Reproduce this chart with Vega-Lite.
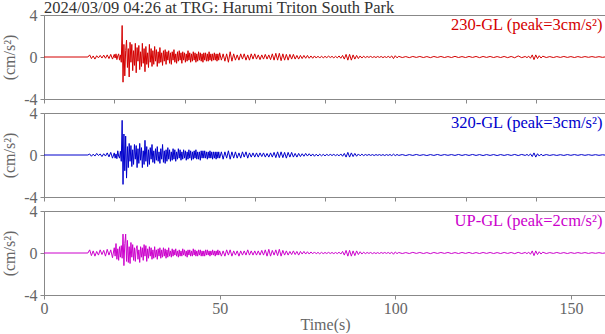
{
  "$schema": "https://vega.github.io/schema/vega-lite/v6.json",
  "background": "white",
  "padding": {"left": 1, "top": 0, "right": 0, "bottom": 0},
  "title": {"text": "2024/03/09 04:26 at TRG: Harumi Triton South Park", "anchor": "start", "frame": "group", "font": "Liberation Serif", "fontSize": 16.5, "fontWeight": "normal", "color": "#333333", "offset": -10},
  "config": {
    "font": "Liberation Serif",
    "view": {"stroke": "#888888", "strokeWidth": 1},
    "axis": {"domainColor": "#888888", "tickColor": "#888888", "labelColor": "#666666", "titleColor": "#666666", "labelFont": "Liberation Serif", "titleFont": "Liberation Serif", "labelFontSize": 16, "titleFontSize": 16, "titleFontWeight": "normal", "grid": false, "tickSize": 4, "labelPadding": 3, "titlePadding": 6, "labelOverlap": false, "labelFlush": false}
  },
  "spacing": 14,
  "bounds": "flush",
  "data": {"values": [
    {"t":0,"ew":0,"ns":0,"ud":0},
    {"t":12.5,"ew":0,"ns":0,"ud":0},
    {"t":13,"ew":0.2,"ns":0.1,"ud":0.3},
    {"t":13.5,"ew":-0.15,"ns":-0.12,"ud":-0.25},
    {"t":14,"ew":0.1,"ns":0.08,"ud":0.2},
    {"t":14.5,"ew":-0.2,"ns":-0.1,"ud":-0.3},
    {"t":15,"ew":0.12,"ns":0.15,"ud":0.15},
    {"t":15.5,"ew":-0.08,"ns":-0.05,"ud":-0.2},
    {"t":16,"ew":0.15,"ns":0.1,"ud":0.3},
    {"t":16.5,"ew":-0.1,"ns":-0.15,"ud":-0.15},
    {"t":17,"ew":0.18,"ns":0.12,"ud":0.25},
    {"t":17.5,"ew":-0.12,"ns":-0.1,"ud":-0.3},
    {"t":18,"ew":0.2,"ns":0.2,"ud":0.35},
    {"t":18.5,"ew":-0.15,"ns":-0.18,"ud":-0.2},
    {"t":19,"ew":0.25,"ns":0.25,"ud":0.3},
    {"t":19.5,"ew":-0.2,"ns":-0.3,"ud":-0.45},
    {"t":20,"ew":0.25,"ns":0.2,"ud":0.5},
    {"t":20.25,"ew":-0.1,"ns":-0.3,"ud":-0.3},
    {"t":20.5,"ew":0.3,"ns":0.1,"ud":0.9},
    {"t":20.75,"ew":-0.25,"ns":-0.35,"ud":-0.6},
    {"t":21,"ew":0.1,"ns":0.4,"ud":0.4},
    {"t":21.25,"ew":0.3,"ns":-0.1,"ud":-0.7},
    {"t":21.5,"ew":-0.3,"ns":-0.3,"ud":0.6},
    {"t":21.75,"ew":0.2,"ns":0.35,"ud":-0.4},
    {"t":22,"ew":-0.5,"ns":-0.6,"ud":0.7},
    {"t":22.25,"ew":3.0,"ns":3.3,"ud":-0.5},
    {"t":22.5,"ew":-2.4,"ns":-2.8,"ud":1.8},
    {"t":22.75,"ew":1.2,"ns":2.0,"ud":-1.2},
    {"t":23,"ew":-1.8,"ns":-1.5,"ud":0.9},
    {"t":23.25,"ew":0.6,"ns":1.8,"ud":1.8},
    {"t":23.5,"ew":1.6,"ns":-2.2,"ud":-0.8},
    {"t":23.75,"ew":-1.0,"ns":0.8,"ud":1.2},
    {"t":24,"ew":0.8,"ns":-1.2,"ud":-0.9},
    {"t":24.25,"ew":-1.9,"ns":1.1,"ud":0.6},
    {"t":24.5,"ew":1.4,"ns":-0.6,"ud":-1.0},
    {"t":24.75,"ew":-0.5,"ns":0.9,"ud":1.0},
    {"t":25,"ew":1.2,"ns":-1.1,"ud":-0.4},
    {"t":25.25,"ew":-1.3,"ns":0.5,"ud":0.8},
    {"t":25.5,"ew":0.6,"ns":-0.9,"ud":-0.7},
    {"t":25.75,"ew":-0.8,"ns":1.0,"ud":0.5},
    {"t":26,"ew":1.3,"ns":-0.4,"ud":-0.8},
    {"t":26.25,"ew":-1.5,"ns":0.9,"ud":0.4},
    {"t":26.5,"ew":0.9,"ns":-1.2,"ud":0.7},
    {"t":26.75,"ew":-0.4,"ns":0.6,"ud":-0.6},
    {"t":27,"ew":1.1,"ns":-0.8,"ud":0.3},
    {"t":27.25,"ew":-1.2,"ns":1.1,"ud":-0.9},
    {"t":27.5,"ew":0.5,"ns":-0.5,"ud":0.6},
    {"t":27.75,"ew":-0.9,"ns":0.7,"ud":-0.4},
    {"t":28,"ew":1.3,"ns":-1.2,"ud":0.5},
    {"t":28.25,"ew":-0.6,"ns":0.4,"ud":-0.7},
    {"t":28.5,"ew":0.8,"ns":-0.9,"ud":0.8},
    {"t":28.75,"ew":-1.4,"ns":1.4,"ud":-0.3},
    {"t":29,"ew":1.0,"ns":-0.6,"ud":0.7},
    {"t":29.25,"ew":-0.7,"ns":0.8,"ud":-0.8},
    {"t":29.5,"ew":0.4,"ns":-1.1,"ud":0.4},
    {"t":29.75,"ew":-1.0,"ns":0.5,"ud":-0.5},
    {"t":30,"ew":1.2,"ns":-0.9,"ud":0.6},
    {"t":30.25,"ew":-0.5,"ns":0.7,"ud":-0.3},
    {"t":30.5,"ew":0.8,"ns":-0.4,"ud":0.5},
    {"t":30.75,"ew":-0.9,"ns":1.0,"ud":-0.6},
    {"t":31,"ew":0.6,"ns":-0.7,"ud":0.3},
    {"t":31.25,"ew":-0.7,"ns":0.4,"ud":-0.5},
    {"t":31.5,"ew":1.0,"ns":-0.8,"ud":0.6},
    {"t":31.75,"ew":-0.4,"ns":0.6,"ud":-0.4},
    {"t":32,"ew":0.7,"ns":-0.5,"ud":0.3},
    {"t":32.25,"ew":-0.9,"ns":0.8,"ud":-0.6},
    {"t":32.5,"ew":0.5,"ns":-0.6,"ud":0.4},
    {"t":32.75,"ew":-0.6,"ns":0.3,"ud":-0.3},
    {"t":33,"ew":0.9,"ns":-0.8,"ud":0.5},
    {"t":33.25,"ew":-0.5,"ns":0.6,"ud":-0.5},
    {"t":33.5,"ew":0.4,"ns":-0.4,"ud":0.3},
    {"t":33.75,"ew":-0.8,"ns":1.0,"ud":-0.4},
    {"t":34,"ew":0.6,"ns":-0.7,"ud":0.5},
    {"t":34.25,"ew":-0.4,"ns":0.4,"ud":-0.3},
    {"t":34.5,"ew":0.7,"ns":-0.8,"ud":0.4},
    {"t":34.75,"ew":-0.7,"ns":0.5,"ud":-0.5},
    {"t":35,"ew":0.5,"ns":-0.6,"ud":0.3},
    {"t":35.25,"ew":-0.3,"ns":0.7,"ud":-0.4},
    {"t":35.5,"ew":0.6,"ns":-0.4,"ud":0.5},
    {"t":35.75,"ew":-0.6,"ns":0.5,"ud":-0.3},
    {"t":36,"ew":0.4,"ns":-0.6,"ud":0.2},
    {"t":36.25,"ew":-0.7,"ns":0.3,"ud":-0.4},
    {"t":36.5,"ew":0.5,"ns":-0.5,"ud":0.4},
    {"t":36.75,"ew":-0.3,"ns":0.6,"ud":-0.3},
    {"t":37,"ew":0.7,"ns":-0.4,"ud":0.3},
    {"t":37.25,"ew":-0.5,"ns":0.5,"ud":-0.2},
    {"t":37.5,"ew":0.3,"ns":-0.6,"ud":0.4},
    {"t":37.75,"ew":-0.6,"ns":0.3,"ud":-0.3},
    {"t":38,"ew":0.5,"ns":-0.4,"ud":0.2},
    {"t":38.25,"ew":-0.4,"ns":0.6,"ud":-0.4},
    {"t":38.5,"ew":0.6,"ns":-0.3,"ud":0.3},
    {"t":38.75,"ew":-0.3,"ns":0.5,"ud":-0.3},
    {"t":39,"ew":0.4,"ns":-0.5,"ud":0.2},
    {"t":39.25,"ew":-0.6,"ns":0.3,"ud":-0.3},
    {"t":39.5,"ew":0.5,"ns":-0.4,"ud":0.4},
    {"t":39.75,"ew":-0.3,"ns":0.5,"ud":-0.2},
    {"t":40,"ew":0.4,"ns":-0.3,"ud":0.3},
    {"t":40.25,"ew":-0.5,"ns":0.4,"ud":-0.3},
    {"t":40.5,"ew":0.3,"ns":-0.5,"ud":0.2},
    {"t":40.75,"ew":-0.4,"ns":0.3,"ud":-0.4},
    {"t":41,"ew":0.6,"ns":-0.4,"ud":0.3},
    {"t":41.25,"ew":-0.3,"ns":0.5,"ud":-0.2},
    {"t":41.5,"ew":0.4,"ns":-0.3,"ud":0.3},
    {"t":41.75,"ew":-0.5,"ns":0.4,"ud":-0.3},
    {"t":42,"ew":0.3,"ns":-0.5,"ud":0.2},
    {"t":42.25,"ew":-0.4,"ns":0.3,"ud":-0.3},
    {"t":42.5,"ew":0.5,"ns":-0.4,"ud":0.4},
    {"t":42.75,"ew":-0.3,"ns":0.4,"ud":-0.2},
    {"t":43,"ew":0.4,"ns":-0.3,"ud":0.3},
    {"t":43.25,"ew":-0.5,"ns":0.5,"ud":-0.3},
    {"t":43.5,"ew":0.3,"ns":-0.4,"ud":0.2},
    {"t":43.75,"ew":-0.4,"ns":0.3,"ud":-0.3},
    {"t":44,"ew":0.5,"ns":-0.4,"ud":0.3},
    {"t":44.25,"ew":-0.3,"ns":0.3,"ud":-0.2},
    {"t":44.5,"ew":0.4,"ns":-0.5,"ud":0.3},
    {"t":44.75,"ew":-0.4,"ns":0.4,"ud":-0.3},
    {"t":45,"ew":0.3,"ns":-0.3,"ud":0.2},
    {"t":45.25,"ew":-0.5,"ns":0.4,"ud":-0.3},
    {"t":45.5,"ew":0.4,"ns":-0.3,"ud":0.2},
    {"t":45.75,"ew":-0.3,"ns":0.4,"ud":-0.3},
    {"t":46,"ew":0.4,"ns":-0.3,"ud":0.3},
    {"t":46.25,"ew":-0.4,"ns":0.3,"ud":-0.2},
    {"t":46.5,"ew":0.3,"ns":-0.4,"ud":0.3},
    {"t":46.75,"ew":-0.4,"ns":0.3,"ud":-0.2},
    {"t":47,"ew":0.5,"ns":-0.3,"ud":0.2},
    {"t":47.25,"ew":-0.3,"ns":0.4,"ud":-0.3},
    {"t":47.5,"ew":0.3,"ns":-0.3,"ud":0.2},
    {"t":47.75,"ew":-0.4,"ns":0.3,"ud":-0.2},
    {"t":48,"ew":0.3,"ns":-0.4,"ud":0.3},
    {"t":48.25,"ew":-0.3,"ns":0.3,"ud":-0.2},
    {"t":48.5,"ew":0.4,"ns":-0.3,"ud":0.2},
    {"t":48.75,"ew":-0.3,"ns":0.3,"ud":-0.3},
    {"t":49,"ew":0.3,"ns":-0.4,"ud":0.2},
    {"t":49.25,"ew":-0.4,"ns":0.3,"ud":-0.2},
    {"t":49.5,"ew":0.3,"ns":-0.3,"ud":0.3},
    {"t":49.75,"ew":-0.3,"ns":0.3,"ud":-0.2},
    {"t":50,"ew":0.4,"ns":-0.3,"ud":0.2},
    {"t":50.5,"ew":-0.3,"ns":0.3,"ud":-0.3},
    {"t":51,"ew":0.3,"ns":-0.4,"ud":0.2},
    {"t":51.5,"ew":-0.4,"ns":0.3,"ud":-0.3},
    {"t":52,"ew":0.3,"ns":-0.3,"ud":0.3},
    {"t":52.5,"ew":-0.5,"ns":0.4,"ud":-0.2},
    {"t":53,"ew":0.5,"ns":-0.4,"ud":0.3},
    {"t":53.5,"ew":-0.4,"ns":0.3,"ud":-0.3},
    {"t":54,"ew":0.3,"ns":-0.3,"ud":0.2},
    {"t":54.5,"ew":-0.3,"ns":0.3,"ud":-0.2},
    {"t":55,"ew":0.2,"ns":-0.3,"ud":0.2},
    {"t":55.5,"ew":-0.3,"ns":0.2,"ud":-0.3},
    {"t":56,"ew":0.3,"ns":-0.3,"ud":0.2},
    {"t":56.5,"ew":-0.2,"ns":0.3,"ud":-0.2},
    {"t":57,"ew":0.3,"ns":-0.2,"ud":0.2},
    {"t":57.5,"ew":-0.3,"ns":0.3,"ud":-0.2},
    {"t":58,"ew":0.2,"ns":-0.3,"ud":0.3},
    {"t":58.5,"ew":-0.3,"ns":0.2,"ud":-0.2},
    {"t":59,"ew":0.3,"ns":-0.2,"ud":0.2},
    {"t":59.5,"ew":-0.2,"ns":0.2,"ud":-0.2},
    {"t":60,"ew":0.3,"ns":-0.2,"ud":0.2},
    {"t":60.5,"ew":-0.2,"ns":0.2,"ud":-0.2},
    {"t":61,"ew":0.2,"ns":-0.2,"ud":0.2},
    {"t":61.5,"ew":-0.25,"ns":0.2,"ud":-0.2},
    {"t":62,"ew":0.2,"ns":-0.15,"ud":0.25},
    {"t":62.5,"ew":-0.2,"ns":0.2,"ud":-0.2},
    {"t":63,"ew":0.25,"ns":-0.2,"ud":0.3},
    {"t":63.5,"ew":-0.2,"ns":0.15,"ud":-0.3},
    {"t":64,"ew":0.2,"ns":-0.2,"ud":0.35},
    {"t":64.5,"ew":-0.25,"ns":0.2,"ud":-0.3},
    {"t":65,"ew":0.3,"ns":-0.2,"ud":0.25},
    {"t":65.5,"ew":-0.3,"ns":0.25,"ud":-0.2},
    {"t":66,"ew":0.35,"ns":-0.25,"ud":0.3},
    {"t":66.5,"ew":-0.3,"ns":0.3,"ud":-0.25},
    {"t":67,"ew":0.35,"ns":-0.25,"ud":0.35},
    {"t":67.5,"ew":-0.35,"ns":0.3,"ud":-0.3},
    {"t":68,"ew":0.3,"ns":-0.25,"ud":0.25},
    {"t":68.5,"ew":-0.3,"ns":0.25,"ud":-0.2},
    {"t":69,"ew":0.25,"ns":-0.3,"ud":0.2},
    {"t":69.5,"ew":-0.3,"ns":0.25,"ud":-0.2},
    {"t":70,"ew":0.25,"ns":-0.2,"ud":0.15},
    {"t":70.5,"ew":-0.2,"ns":0.25,"ud":-0.15},
    {"t":71,"ew":0.25,"ns":-0.2,"ud":0.2},
    {"t":71.5,"ew":-0.2,"ns":0.15,"ud":-0.15},
    {"t":72,"ew":0.15,"ns":-0.2,"ud":0.15},
    {"t":72.5,"ew":-0.2,"ns":0.15,"ud":-0.2},
    {"t":73,"ew":0.15,"ns":-0.15,"ud":0.15},
    {"t":73.5,"ew":-0.15,"ns":0.12,"ud":-0.1},
    {"t":74,"ew":0.15,"ns":-0.12,"ud":0.15},
    {"t":74.5,"ew":-0.12,"ns":0.15,"ud":-0.1},
    {"t":75,"ew":0.15,"ns":-0.1,"ud":0.12},
    {"t":75.5,"ew":-0.12,"ns":0.12,"ud":-0.1},
    {"t":76,"ew":0.1,"ns":-0.1,"ud":0.1},
    {"t":76.5,"ew":-0.12,"ns":0.1,"ud":-0.08},
    {"t":77,"ew":0.1,"ns":-0.12,"ud":0.1},
    {"t":77.5,"ew":-0.1,"ns":0.08,"ud":-0.08},
    {"t":78,"ew":0.08,"ns":-0.1,"ud":0.06},
    {"t":78.5,"ew":-0.1,"ns":0.08,"ud":-0.08},
    {"t":79,"ew":0.08,"ns":-0.08,"ud":0.06},
    {"t":79.5,"ew":-0.08,"ns":0.06,"ud":-0.06},
    {"t":80,"ew":0.06,"ns":-0.08,"ud":0.05},
    {"t":80.5,"ew":-0.06,"ns":0.06,"ud":-0.05},
    {"t":81,"ew":0.08,"ns":-0.05,"ud":0.06},
    {"t":81.5,"ew":-0.05,"ns":0.06,"ud":-0.05},
    {"t":82,"ew":0.06,"ns":-0.05,"ud":0.05},
    {"t":82.5,"ew":-0.08,"ns":0.06,"ud":-0.06},
    {"t":83,"ew":0.06,"ns":-0.06,"ud":0.05},
    {"t":83.5,"ew":-0.08,"ns":0.05,"ud":-0.06},
    {"t":84,"ew":0.1,"ns":-0.08,"ud":0.08},
    {"t":84.5,"ew":-0.12,"ns":0.1,"ud":-0.1},
    {"t":85,"ew":0.15,"ns":-0.12,"ud":0.15},
    {"t":85.5,"ew":-0.2,"ns":0.15,"ud":-0.2},
    {"t":86,"ew":0.25,"ns":-0.2,"ud":0.25},
    {"t":86.5,"ew":-0.3,"ns":0.25,"ud":-0.3},
    {"t":87,"ew":0.25,"ns":-0.2,"ud":0.25},
    {"t":87.5,"ew":-0.3,"ns":0.2,"ud":-0.3},
    {"t":88,"ew":0.2,"ns":-0.15,"ud":0.2},
    {"t":88.5,"ew":-0.2,"ns":0.15,"ud":-0.25},
    {"t":89,"ew":0.15,"ns":-0.12,"ud":0.2},
    {"t":89.5,"ew":-0.15,"ns":0.1,"ud":-0.15},
    {"t":90,"ew":0.1,"ns":-0.08,"ud":0.12},
    {"t":90.5,"ew":-0.1,"ns":0.08,"ud":-0.1},
    {"t":91,"ew":0.08,"ns":-0.06,"ud":0.08},
    {"t":91.5,"ew":-0.06,"ns":0.05,"ud":-0.06},
    {"t":92,"ew":0.05,"ns":-0.04,"ud":0.05},
    {"t":92.5,"ew":-0.04,"ns":0.05,"ud":-0.04},
    {"t":93,"ew":0.06,"ns":-0.04,"ud":0.05},
    {"t":93.5,"ew":-0.05,"ns":0.04,"ud":-0.06},
    {"t":94,"ew":0.04,"ns":-0.05,"ud":0.04},
    {"t":94.5,"ew":-0.05,"ns":0.04,"ud":-0.05},
    {"t":95,"ew":0.05,"ns":-0.03,"ud":0.04},
    {"t":95.5,"ew":-0.04,"ns":0.04,"ud":-0.05},
    {"t":96,"ew":0.05,"ns":-0.04,"ud":0.05},
    {"t":96.5,"ew":-0.06,"ns":0.04,"ud":-0.04},
    {"t":97,"ew":0.04,"ns":-0.05,"ud":0.05},
    {"t":97.5,"ew":-0.05,"ns":0.04,"ud":-0.04},
    {"t":98,"ew":0.06,"ns":-0.04,"ud":0.05},
    {"t":98.5,"ew":-0.06,"ns":0.05,"ud":-0.06},
    {"t":99,"ew":0.1,"ns":-0.06,"ud":0.08},
    {"t":99.5,"ew":-0.15,"ns":0.08,"ud":-0.12},
    {"t":100,"ew":0.12,"ns":-0.06,"ud":0.1},
    {"t":100.5,"ew":-0.08,"ns":0.05,"ud":-0.06},
    {"t":101,"ew":0.06,"ns":-0.04,"ud":0.05},
    {"t":102,"ew":-0.05,"ns":0.04,"ud":-0.05},
    {"t":103,"ew":0.04,"ns":-0.05,"ud":0.04},
    {"t":104,"ew":-0.06,"ns":0.04,"ud":-0.05},
    {"t":105,"ew":0.05,"ns":-0.04,"ud":0.06},
    {"t":106,"ew":-0.04,"ns":0.05,"ud":-0.04},
    {"t":107,"ew":0.05,"ns":-0.04,"ud":0.05},
    {"t":108,"ew":-0.05,"ns":0.03,"ud":-0.05},
    {"t":109,"ew":0.04,"ns":-0.05,"ud":0.04},
    {"t":110,"ew":-0.06,"ns":0.04,"ud":-0.06},
    {"t":111,"ew":0.05,"ns":-0.04,"ud":0.05},
    {"t":112,"ew":-0.04,"ns":0.05,"ud":-0.04},
    {"t":113,"ew":0.05,"ns":-0.04,"ud":0.05},
    {"t":114,"ew":-0.05,"ns":0.04,"ud":-0.04},
    {"t":115,"ew":0.04,"ns":-0.03,"ud":0.05},
    {"t":116,"ew":-0.05,"ns":0.04,"ud":-0.05},
    {"t":117,"ew":0.06,"ns":-0.04,"ud":0.04},
    {"t":118,"ew":-0.05,"ns":0.05,"ud":-0.05},
    {"t":119,"ew":0.04,"ns":-0.04,"ud":0.05},
    {"t":120,"ew":-0.05,"ns":0.04,"ud":-0.04},
    {"t":121,"ew":0.05,"ns":-0.04,"ud":0.05},
    {"t":122,"ew":-0.04,"ns":0.05,"ud":-0.05},
    {"t":123,"ew":0.05,"ns":-0.04,"ud":0.04},
    {"t":124,"ew":-0.06,"ns":0.04,"ud":-0.05},
    {"t":125,"ew":0.05,"ns":-0.05,"ud":0.05},
    {"t":126,"ew":-0.04,"ns":0.04,"ud":-0.04},
    {"t":127,"ew":0.05,"ns":-0.04,"ud":0.05},
    {"t":128,"ew":-0.05,"ns":0.04,"ud":-0.05},
    {"t":129,"ew":0.04,"ns":-0.05,"ud":0.04},
    {"t":130,"ew":-0.05,"ns":0.04,"ud":-0.05},
    {"t":131,"ew":0.05,"ns":-0.04,"ud":0.05},
    {"t":132,"ew":-0.06,"ns":0.04,"ud":-0.04},
    {"t":133,"ew":0.05,"ns":-0.04,"ud":0.05},
    {"t":134,"ew":-0.07,"ns":0.05,"ud":-0.06},
    {"t":135,"ew":0.1,"ns":-0.05,"ud":0.06},
    {"t":136,"ew":-0.06,"ns":0.05,"ud":-0.05},
    {"t":137,"ew":0.05,"ns":-0.04,"ud":0.05},
    {"t":137.5,"ew":-0.06,"ns":0.05,"ud":-0.06},
    {"t":138,"ew":0.08,"ns":-0.06,"ud":0.08},
    {"t":138.5,"ew":-0.12,"ns":0.1,"ud":-0.12},
    {"t":139,"ew":0.2,"ns":-0.15,"ud":0.2},
    {"t":139.5,"ew":-0.25,"ns":0.2,"ud":-0.25},
    {"t":140,"ew":0.2,"ns":-0.2,"ud":0.2},
    {"t":140.5,"ew":-0.15,"ns":0.12,"ud":-0.15},
    {"t":141,"ew":0.12,"ns":-0.1,"ud":0.12},
    {"t":141.5,"ew":-0.1,"ns":0.08,"ud":-0.1},
    {"t":142,"ew":0.08,"ns":-0.06,"ud":0.08},
    {"t":143,"ew":-0.05,"ns":0.04,"ud":-0.05},
    {"t":144,"ew":0.04,"ns":-0.04,"ud":0.04},
    {"t":145,"ew":-0.05,"ns":0.03,"ud":-0.04},
    {"t":146,"ew":0.04,"ns":-0.04,"ud":0.05},
    {"t":147,"ew":-0.04,"ns":0.03,"ud":-0.04},
    {"t":148,"ew":0.05,"ns":-0.04,"ud":0.04},
    {"t":149,"ew":-0.04,"ns":0.04,"ud":-0.05},
    {"t":150,"ew":0.04,"ns":-0.03,"ud":0.04},
    {"t":151,"ew":-0.05,"ns":0.04,"ud":-0.04},
    {"t":152,"ew":0.04,"ns":-0.03,"ud":0.04},
    {"t":153,"ew":-0.04,"ns":0.04,"ud":-0.03},
    {"t":154,"ew":0.04,"ns":-0.03,"ud":0.04},
    {"t":155,"ew":-0.03,"ns":0.03,"ud":-0.04},
    {"t":156,"ew":0.04,"ns":-0.03,"ud":0.03},
    {"t":157,"ew":-0.03,"ns":0.03,"ud":-0.03},
    {"t":158,"ew":0.03,"ns":-0.03,"ud":0.03},
    {"t":159,"ew":-0.03,"ns":0.02,"ud":-0.03},
    {"t":160,"ew":0.02,"ns":-0.02,"ud":0.02}
  ]},
  "vconcat": [
    {
      "width": 562, "height": 84,
      "layer": [
        {
          "mark": {"type": "line", "color": "#d40000", "strokeWidth": 1, "clip": true},
          "encoding": {
            "x": {"field": "t", "type": "quantitative", "scale": {"domain": [0, 160], "nice": false}, "axis": {"values": [0,10,20,30,40,50,60,70,80,90,100,110,120,130,140,150,160], "labels": false, "title": null}},
            "y": {"field": "ew", "type": "quantitative", "scale": {"domain": [-4, 4], "nice": false}, "axis": {"values": [-4,-3,-2,-1,0,1,2,3,4], "labelOverlap": false, "labelExpr": "datum.value % 4 == 0 ? '' + datum.value : ' '", "title": "(cm/s²)"}}
          }
        },
        {
          "data": {"values": [{"label": "230-GL (peak=3cm/s²)"}]},
          "mark": {"type": "text", "align": "right", "baseline": "alphabetic", "color": "#d40000", "fontSize": 16.5, "font": "Liberation Serif"},
          "encoding": {"x": {"datum": 159, "type": "quantitative"}, "y": {"datum": 2.55, "type": "quantitative"}, "text": {"field": "label"}}
        }
      ]
    },
    {
      "width": 562, "height": 84,
      "layer": [
        {
          "mark": {"type": "line", "color": "#0000cc", "strokeWidth": 1, "clip": true},
          "encoding": {
            "x": {"field": "t", "type": "quantitative", "scale": {"domain": [0, 160], "nice": false}, "axis": {"values": [0,10,20,30,40,50,60,70,80,90,100,110,120,130,140,150,160], "labels": false, "title": null}},
            "y": {"field": "ns", "type": "quantitative", "scale": {"domain": [-4, 4], "nice": false}, "axis": {"values": [-4,-3,-2,-1,0,1,2,3,4], "labelOverlap": false, "labelExpr": "datum.value % 4 == 0 ? '' + datum.value : ' '", "title": "(cm/s²)"}}
          }
        },
        {
          "data": {"values": [{"label": "320-GL (peak=3cm/s²)"}]},
          "mark": {"type": "text", "align": "right", "baseline": "alphabetic", "color": "#0000cc", "fontSize": 16.5, "font": "Liberation Serif"},
          "encoding": {"x": {"datum": 159, "type": "quantitative"}, "y": {"datum": 2.55, "type": "quantitative"}, "text": {"field": "label"}}
        }
      ]
    },
    {
      "width": 562, "height": 84,
      "layer": [
        {
          "mark": {"type": "line", "color": "#cc00cc", "strokeWidth": 1, "clip": true},
          "encoding": {
            "x": {"field": "t", "type": "quantitative", "scale": {"domain": [0, 160], "nice": false}, "axis": {"values": [0, 50, 100, 150], "labelOverlap": false, "labelFlush": false, "title": "Time(s)", "labelPadding": 1, "titlePadding": 0}},
            "y": {"field": "ud", "type": "quantitative", "scale": {"domain": [-4, 4], "nice": false}, "axis": {"values": [-4,-3,-2,-1,0,1,2,3,4], "labelOverlap": false, "labelExpr": "datum.value % 4 == 0 ? '' + datum.value : ' '", "title": "(cm/s²)"}}
          }
        },
        {
          "data": {"values": [{"label": "UP-GL (peak=2cm/s²)"}]},
          "mark": {"type": "text", "align": "right", "baseline": "alphabetic", "color": "#cc00cc", "fontSize": 16.5, "font": "Liberation Serif"},
          "encoding": {"x": {"datum": 159, "type": "quantitative"}, "y": {"datum": 2.55, "type": "quantitative"}, "text": {"field": "label"}}
        }
      ]
    }
  ]
}
